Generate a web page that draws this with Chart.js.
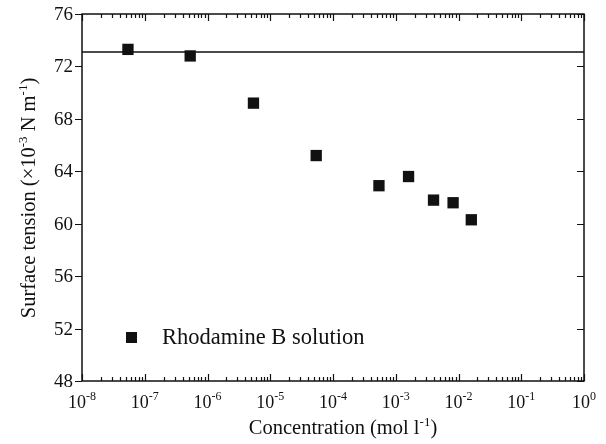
<!DOCTYPE html>
<html>
<head>
<meta charset="utf-8">
<script src="https://cdn.jsdelivr.net/npm/chart.js@4/dist/chart.umd.min.js"></script>
<style>
  html, body { margin: 0; padding: 0; background: #fff; }
  #wrap { width: 606px; height: 444px; }
</style>
</head>
<body>
<div id="wrap"><canvas id="chartTension"></canvas></div>
<script>
// concentration (mol/l) and surface tension (x10^-3 N/m)
const concentration = [5.4e-8, 5.3e-7, 5.4e-6, 5.4e-5, 5.4e-4, 1.6e-3, 4.0e-3, 8.2e-3, 1.6e-2];
const tension = [73.3, 72.8, 69.2, 65.2, 62.9, 63.6, 61.8, 61.6, 60.3];
const pureWater = 73.1; // reference line
const xRange = [1e-8, 1];
const yTicks = [48, 52, 56, 60, 64, 68, 72, 76];
const xExponents = [-8, -7, -6, -5, -4, -3, -2, -1, 0];
const seriesLabel = "Rhodamine B solution";

const serif = "'Liberation Serif', 'Times New Roman', serif";
const ink = "#111";

// frame, inward ticks, superscript labels, legend and titles
const decorations = {
  id: "decorations",
  afterDraw(chart) {
    const ctx = chart.ctx;
    const a = chart.chartArea;
    const xs = chart.scales.x;
    const ys = chart.scales.y;
    ctx.save();
    ctx.strokeStyle = ink;
    ctx.fillStyle = ink;
    ctx.lineWidth = 1.5;
    ctx.strokeRect(a.left, a.top, a.right - a.left, a.bottom - a.top);

    ctx.lineWidth = 1.2;
    ctx.beginPath();
    xExponents.forEach((e) => {
      for (let m = 1; m <= 9; m++) {
        const v = m * Math.pow(10, e);
        if (v > xRange[1] * 1.0001) break;
        const px = Math.round(xs.getPixelForValue(v)) + 0.5;
        const len = m === 1 ? 7 : 4;
        ctx.moveTo(px, a.bottom);
        ctx.lineTo(px, a.bottom - len);
        ctx.moveTo(px, a.top);
        ctx.lineTo(px, a.top + len);
      }
    });
    yTicks.forEach((v) => {
      const py = Math.round(ys.getPixelForValue(v)) + 0.5;
      ctx.moveTo(a.left - 7, py);
      ctx.lineTo(a.left, py);
      ctx.moveTo(a.right, py);
      ctx.lineTo(a.right - 7, py);
    });
    ctx.stroke();

    // y tick labels
    ctx.font = "19px " + serif;
    ctx.textAlign = "right";
    ctx.textBaseline = "middle";
    yTicks.forEach((v) => {
      ctx.fillText(String(v), a.left - 9, ys.getPixelForValue(v) + 1);
    });

    // x tick labels 10^n
    ctx.textBaseline = "alphabetic";
    ctx.textAlign = "left";
    xExponents.forEach((e) => {
      const px = xs.getPixelForValue(Math.pow(10, e));
      ctx.font = "18px " + serif;
      const baseW = ctx.measureText("10").width;
      ctx.font = "12px " + serif;
      const expTxt = e === 0 ? "0" : "-" + Math.abs(e);
      const expW = ctx.measureText(expTxt).width;
      const x0 = px - (baseW + expW) / 2;
      ctx.font = "18px " + serif;
      ctx.fillText("10", x0, 408);
      ctx.font = "12px " + serif;
      ctx.fillText(expTxt, x0 + baseW, 400);
    });

    // x title
    const xParts = [["Concentration (mol l", 20.5, 0], ["-1", 13, -8], [")", 20.5, 0]];
    drawParts(ctx, xParts, 343, 434);

    // y title (rotated)
    ctx.save();
    ctx.translate(35, 198);
    ctx.rotate(-Math.PI / 2);
    const yParts = [["Surface tension (\u00d710", 20.5, 0], ["-3", 13, -8], [" N m", 20.5, 0], ["-1", 13, -8], [")", 20.5, 0]];
    drawParts(ctx, yParts, 0, 0);
    ctx.restore();

    // legend
    ctx.fillRect(126, 332, 11, 11);
    ctx.font = "22.5px " + serif;
    ctx.textAlign = "left";
    ctx.textBaseline = "middle";
    ctx.fillText(chart.data.datasets[1].label, 162, 338);
    ctx.restore();
  },
};

function drawParts(ctx, parts, cx, baseY) {
  let total = 0;
  parts.forEach((p) => {
    ctx.font = p[1] + "px " + serif;
    total += ctx.measureText(p[0]).width;
  });
  let x = cx - total / 2;
  ctx.textAlign = "left";
  ctx.textBaseline = "alphabetic";
  parts.forEach((p) => {
    ctx.font = p[1] + "px " + serif;
    ctx.fillText(p[0], x, baseY + p[2]);
    x += ctx.measureText(p[0]).width;
  });
}

new Chart(document.getElementById("chartTension"), {
  type: "scatter",
  data: {
    datasets: [
      {
        label: "reference",
        data: xRange.map((c) => ({ x: c, y: pureWater })),
        showLine: true,
        borderColor: ink,
        borderWidth: 1.5,
        pointRadius: 0,
      },
      {
        label: seriesLabel,
        data: concentration.map((c, i) => ({ x: c, y: tension[i] })),
        pointStyle: "rect",
        pointRadius: 8,
        pointHoverRadius: 8,
        backgroundColor: ink,
        borderColor: ink,
        borderWidth: 0,
      },
    ],
  },
  options: {
    responsive: true,
    maintainAspectRatio: false,
    animation: false,
    layout: { padding: { top: 14, right: 22, left: 0, bottom: 0 } },
    plugins: { legend: { display: false }, tooltip: { enabled: false } },
    scales: {
      x: {
        type: "logarithmic",
        min: xRange[0],
        max: xRange[1],
        ticks: { display: false },
        grid: { display: false },
        border: { display: false },
        afterFit(s) { s.height = 63; },
      },
      y: {
        min: 48,
        max: 76,
        ticks: { display: false, stepSize: 4 },
        grid: { display: false },
        border: { display: false },
        afterFit(s) { s.width = 82; },
      },
    },
  },
  plugins: [decorations],
});
</script>
</body>
</html>
